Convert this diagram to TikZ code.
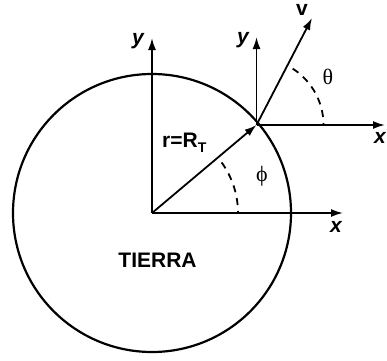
\documentclass[tikz,border=0pt]{standalone}
\usepackage{fontspec}
\setmainfont{Liberation Sans}
\newfontfamily\greekfont{Liberation Serif}
\usetikzlibrary{arrows.meta,calc}
\begin{document}
\begin{tikzpicture}[x=1pt,y=1pt,
  axis/.style={line width=1.8pt,-{Latex[length=12pt,width=8pt]}},
  anglearc/.style={line width=1.8pt,dash pattern=on 7pt off 6pt},
  axlabel/.style={font=\fontsize{21}{21}\selectfont\bfseries\itshape,inner sep=0pt},
  greeklabel/.style={font=\fontsize{22}{22}\selectfont\greekfont,inner sep=0pt}]
\useasboundingbox (0,0) rectangle (387,360);
\coordinate (O) at (152,147);
\coordinate (P) at (256.5,235);
\coordinate (Oy) at (152,322);
\coordinate (Ox) at (343,147);
\coordinate (Py) at (256.5,323);
\coordinate (Px) at (385,235);
\coordinate (Pv) at (312,342);
% Earth
\draw[line width=2.2pt] (O) circle (139);
% axes at centre
\draw[axis] (O) -- (Oy);
\draw[axis] (O) -- (Ox);
% local axes
\draw[axis] (P) -- (Py);
\draw[axis] (P) -- (Px);
\draw[axis] (P) -- (Pv);
% radius
\draw[axis] (O) -- (P);
% angles
\draw[anglearc,dash phase=5pt] ($(O)+(86,0)$) arc[start angle=0,end angle=40,radius=86];
\draw[anglearc,dash phase=5pt] ($(P)+(67,0)$) arc[start angle=0,end angle=62.6,radius=67];
% labels
\node[axlabel] (ly1) at (138,319) {y};
\node[axlabel] (ly2) at (243,320) {y};
\node[font=\fontsize{21}{21}\selectfont\bfseries,inner sep=0pt] (lv) at (302,350) {v};
\node[axlabel] (lx1) at (336,133) {x};
\node[axlabel] (lx2) at (380,222) {x};
\node[greeklabel] (lth) at (328,283) {θ};
\node[greeklabel] (lph) at (262,184) {ϕ};
\node[font=\fontsize{21}{21}\selectfont\bfseries,inner sep=0pt,anchor=base west] (lr) at (162,213) {r=R\raisebox{-5pt}{\fontsize{14}{14}\selectfont\bfseries T}};
\node[font=\fontsize{21}{21}\selectfont\bfseries,inner sep=0pt] (lt) at (157.5,99.5) {TIERRA};
\end{tikzpicture}
\end{document}
